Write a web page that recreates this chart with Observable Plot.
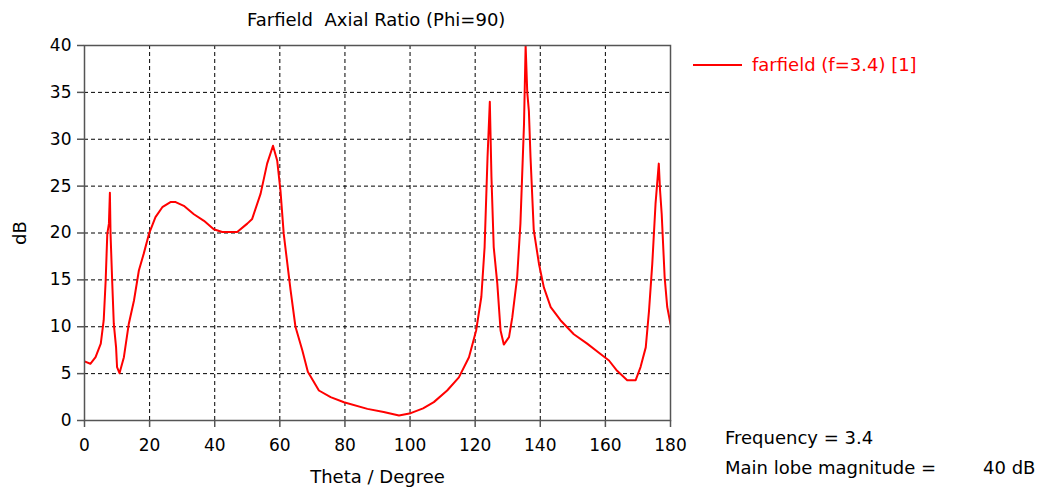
<!DOCTYPE html>
<html>
<head>
<meta charset="utf-8">
<script src="https://cdn.jsdelivr.net/npm/d3@7"></script>
<script src="https://cdn.jsdelivr.net/npm/@observablehq/plot@0.6"></script>
<style>
  body { margin: 0; background: #fff; }
  #wrap { position: relative; width: 1042px; height: 490px; overflow: hidden; font-family: "DejaVu Sans", sans-serif; }
  #wrap svg { position: absolute; left: 0; top: 0; }
  .ov { position: absolute; white-space: pre; font-size: 18px; line-height: 1; }
</style>
</head>
<body>
<div id="wrap"></div>
<script>
const title = "Farfield  Axial Ratio (Phi=90)";
const seriesName = "farfield (f=3.4) [1]";
const xLabel = "Theta / Degree";
const yLabel = "dB";
const xTicks = [0, 20, 40, 60, 80, 100, 120, 140, 160, 180];
const yTicks = [0, 5, 10, 15, 20, 25, 30, 35, 40];
const infoLabels = ["Frequency = 3.4", "Main lobe magnitude =", "40 dB"];

const theta = [0, 1.8, 3.4, 5.0, 5.9, 6.5, 7.0, 7.5, 7.8, 8.0, 8.5, 9.0, 9.7, 10.0, 10.75, 12.1, 13.6, 15.2, 16.7, 18.2, 19.8, 21.8, 23.9, 26.4, 28, 30.5, 33.6, 36.7, 39.7, 42.3, 46.9, 50.0, 51.5, 54.1, 56.1, 57.9, 59.2, 60.2, 61.2, 63.3, 64.8, 66.9, 68.6, 72.0, 75.6, 79.7, 86.9, 91.9, 96.6, 100.2, 104, 107.3, 111.4, 115.0, 118.1, 120.3, 121.9, 122.9, 123.8, 124.5, 125.0, 125.7, 126.8, 127.8, 128.8, 130.4, 131.4, 132.9, 133.9, 135.0, 135.5, 136.0, 136.5, 137.0, 138.0, 139.6, 141.1, 143.2, 146.2, 150.3, 154.4, 158.5, 161.1, 163.6, 166.7, 169.3, 170.8, 172.4, 173.4, 174.4, 175.4, 176.4, 176.8, 177.3, 178.2, 179.0, 180];
const axialRatio = [6.3, 6.05, 6.75, 8.2, 10.7, 14.9, 19.9, 21, 24.3, 19.9, 14.9, 10.3, 7.8, 5.7, 5.05, 6.75, 10.3, 12.8, 16, 17.8, 19.9, 21.7, 22.75, 23.3, 23.3, 22.9, 22.0, 21.3, 20.4, 20.1, 20.1, 21.0, 21.5, 24.2, 27.4, 29.3, 27.7, 24.5, 19.9, 13.9, 10.0, 7.5, 5.2, 3.2, 2.5, 1.95, 1.24, 0.9, 0.53, 0.78, 1.3, 1.96, 3.2, 4.6, 6.75, 9.6, 13.2, 18.5, 28.1, 34.0, 26.0, 18.5, 14.6, 9.6, 8.1, 8.9, 11.0, 15.3, 21.0, 31.6, 40, 35, 33, 28.1, 20.3, 16.7, 14.2, 12.1, 10.7, 9.2, 8.2, 7.1, 6.4, 5.3, 4.3, 4.3, 5.7, 7.8, 11.7, 16.7, 23.1, 27.4, 24.5, 22.0, 15.3, 12.1, 10.3];

const data = theta.map((t, i) => ({theta: t, ar: axialRatio[i]}));

const plot = Plot.plot({
  width: 1042,
  height: 490,
  marginLeft: 84,
  marginRight: 372,
  marginTop: 45,
  marginBottom: 70,
  style: {fontFamily: "DejaVu Sans, sans-serif", fontSize: "17px", color: "#000", background: "transparent"},
  x: {domain: [0, 180]},
  y: {domain: [0, 40]},
  marks: [
    Plot.ruleX(xTicks, {stroke: "#000", strokeDasharray: "4,3", strokeWidth: 1}),
    Plot.ruleY(yTicks, {stroke: "#000", strokeDasharray: "4,3", strokeWidth: 1}),
    Plot.line(data, {x: "theta", y: "ar", stroke: "#ff0000", strokeWidth: 2, curve: "linear", clip: true}),
    Plot.frame({stroke: "#555", strokeWidth: 1.5}),
    Plot.axisX({ticks: xTicks, tickSize: 7, tickPadding: 11, stroke: "#555", strokeWidth: 1.5, label: null, fontSize: 17}),
    Plot.axisX({ticks: [], label: xLabel, labelAnchor: "center", labelArrow: "none", labelOffset: 62, fontSize: 18}),
    Plot.axisY({ticks: yTicks, tickSize: 7, tickPadding: 6, stroke: "#555", strokeWidth: 1.5, label: null, fontSize: 17}),
    Plot.axisY({ticks: [], label: yLabel, labelAnchor: "center", labelArrow: "none", labelOffset: 71, fontSize: 18})
  ]
});

const wrap = document.getElementById("wrap");
wrap.appendChild(plot);

function ov(text, left, top, color, extra) {
  const d = document.createElement("div");
  d.className = "ov";
  d.textContent = text;
  d.style.left = left + "px";
  d.style.top = top + "px";
  d.style.color = color || "#000";
  if (extra) Object.assign(d.style, extra);
  wrap.appendChild(d);
  return d;
}
ov(title, 247, 11, "#000");
// legend
const sw = document.createElement("div");
sw.style.cssText = "position:absolute;left:693px;top:64px;width:49px;height:2px;background:#ff0000;";
wrap.appendChild(sw);
ov(seriesName, 752, 56, "#ff0000");
ov(infoLabels[0], 725, 429, "#000");
ov(infoLabels[1], 725, 459, "#000");
ov(infoLabels[2], 983, 459, "#000");
</script>
</body>
</html>
